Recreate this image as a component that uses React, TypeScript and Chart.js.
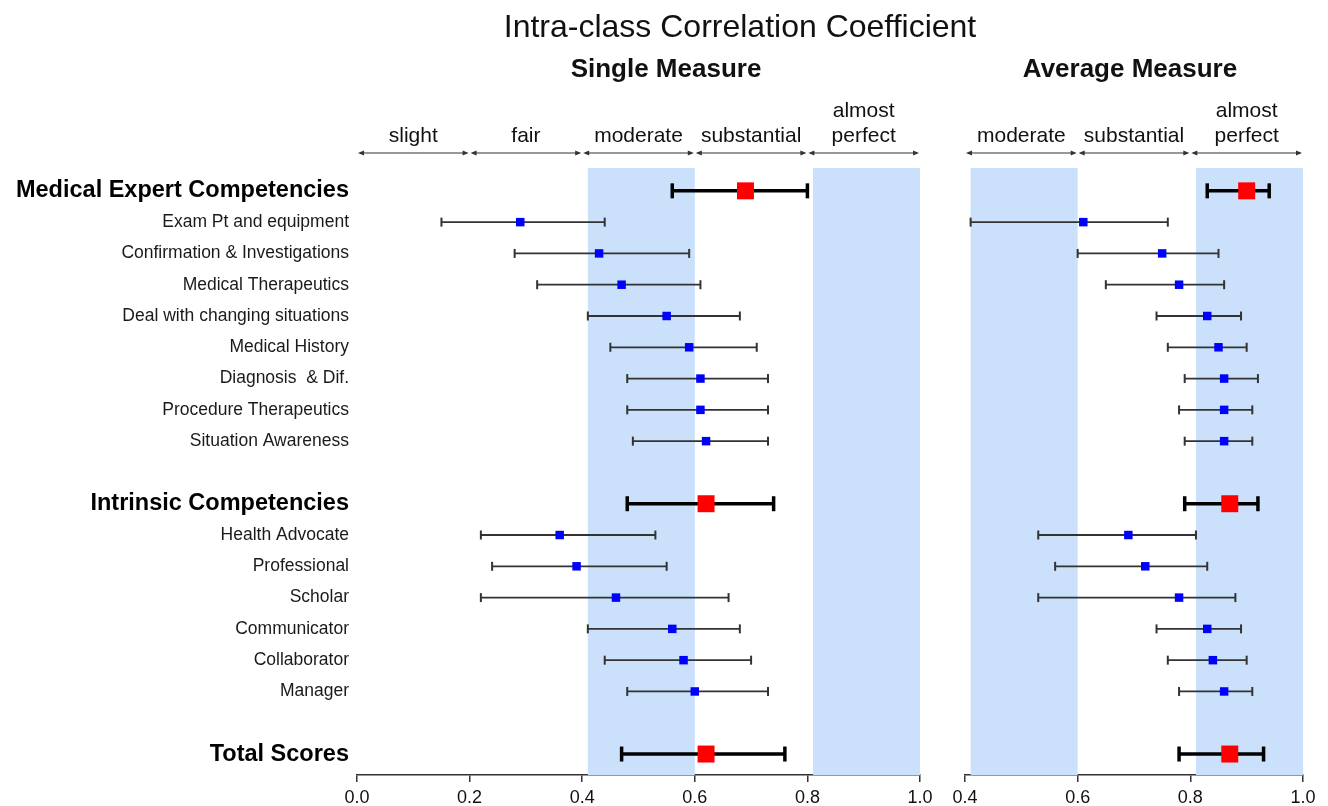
import React, { useEffect, useRef } from 'react';
import { Chart, registerables } from 'chart.js';

Chart.register(...registerables);

const FONT = "'Liberation Sans', Arial, Helvetica, sans-serif";

// ---------- data ----------
const rowLabels = [
  'Medical Expert Competencies',
  'Exam Pt and equipment',
  'Confirmation & Investigations',
  'Medical Therapeutics',
  'Deal with changing situations',
  'Medical History',
  'Diagnosis  & Dif.',
  'Procedure Therapeutics',
  'Situation Awareness',
  '',
  'Intrinsic Competencies',
  'Health Advocate',
  'Professional',
  'Scholar',
  'Communicator',
  'Collaborator',
  'Manager',
  '',
  'Total Scores',
];
const headerRows = [0, 10, 18];

const singleEst = [0.69, 0.29, 0.43, 0.47, 0.55, 0.59, 0.61, 0.61, 0.62, null, 0.62, 0.36, 0.39, 0.46, 0.56, 0.58, 0.60, null, 0.62];
const singleLo = [0.56, 0.15, 0.28, 0.32, 0.41, 0.45, 0.48, 0.48, 0.49, null, 0.48, 0.22, 0.24, 0.22, 0.41, 0.44, 0.48, null, 0.47];
const singleHi = [0.80, 0.44, 0.59, 0.61, 0.68, 0.71, 0.73, 0.73, 0.73, null, 0.74, 0.53, 0.55, 0.66, 0.68, 0.70, 0.73, null, 0.76];

const avgEst = [0.90, 0.61, 0.75, 0.78, 0.83, 0.85, 0.86, 0.86, 0.86, null, 0.87, 0.69, 0.72, 0.78, 0.83, 0.84, 0.86, null, 0.87];
const avgLo = [0.83, 0.41, 0.60, 0.65, 0.74, 0.76, 0.79, 0.78, 0.79, null, 0.79, 0.53, 0.56, 0.53, 0.74, 0.76, 0.78, null, 0.78];
const avgHi = [0.94, 0.76, 0.85, 0.86, 0.89, 0.90, 0.92, 0.91, 0.91, null, 0.92, 0.81, 0.83, 0.88, 0.89, 0.90, 0.91, null, 0.93];

const xTicksLeft = [0, 0.2, 0.4, 0.6, 0.8, 1.0];
const xTicksRight = [0.4, 0.6, 0.8, 1.0];

const zoneBoundsLeft = [0, 0.2, 0.4, 0.6, 0.8, 1.0];
const zoneLabelsLeft = ['slight', 'fair', 'moderate', 'substantial', 'almost\nperfect'];
const zoneBoundsRight = [0.4, 0.6, 0.8, 1.0];
const zoneLabelsRight = ['moderate', 'substantial', 'almost\nperfect'];

const shadedBands = [
  [0.41, 0.6],
  [0.81, 1.0],
];

const mainTitle = 'Intra-class Correlation Coefficient';
const leftTitle = 'Single Measure';
const rightTitle = 'Average Measure';

// ---------- helpers ----------
const isHeader = (i: number) => headerRows.includes(i);

function buildDatasets(est: (number | null)[], lo: (number | null)[], hi: (number | null)[]) {
  const pts = (pred: (i: number) => boolean) =>
    est.map((v, i) => (v == null || !pred(i) ? null : { x: v, y: i })).filter(Boolean) as any[];
  const caps = (pred: (i: number) => boolean) => {
    const d: any[] = [];
    lo.forEach((v, i) => {
      if (v == null || !pred(i)) return;
      d.push({ x: v, y: i }, { x: hi[i], y: i });
    });
    return d;
  };
  const ci = (pred: (i: number) => boolean) => {
    const d: any[] = [];
    lo.forEach((v, i) => {
      if (v == null || !pred(i)) return;
      d.push({ x: v, y: i }, { x: hi[i], y: i }, { x: NaN, y: NaN });
    });
    return d;
  };
  const notH = (i: number) => !isHeader(i);
  return [
    { label: 'hEst', data: pts(isHeader), pointStyle: 'rect', pointRadius: 12, pointBackgroundColor: '#ff0000', pointBorderWidth: 0, showLine: false, order: 0 },
    { label: 'iEst', data: pts(notH), pointStyle: 'rect', pointRadius: 6, pointBackgroundColor: '#0000ff', pointBorderWidth: 0, showLine: false, order: 1 },
    { label: 'hCap', data: caps(isHeader), pointStyle: 'line', pointRotation: 90, pointRadius: 7.5, pointBorderWidth: 3.5, pointBorderColor: '#000', showLine: false, order: 2 },
    { label: 'iCap', data: caps(notH), pointStyle: 'line', pointRotation: 90, pointRadius: 4.5, pointBorderWidth: 2, pointBorderColor: '#333', showLine: false, order: 3 },
    { label: 'hCI', data: ci(isHeader), showLine: true, spanGaps: false, borderColor: '#000', borderWidth: 3.5, pointRadius: 0, order: 4 },
    { label: 'iCI', data: ci(notH), showLine: true, spanGaps: false, borderColor: '#333', borderWidth: 1.8, pointRadius: 0, order: 5 },
  ];
}

const bandPlugin = {
  id: 'bands',
  beforeDatasetsDraw(chart: any) {
    const { ctx, chartArea, scales } = chart;
    const x = scales.x;
    ctx.save();
    ctx.fillStyle = '#cae0fb';
    shadedBands.forEach(([a, b]) => {
      const x1 = x.getPixelForValue(a);
      const x2 = x.getPixelForValue(b);
      ctx.fillRect(x1, chartArea.top, x2 - x1, chartArea.bottom - chartArea.top);
    });
    ctx.restore();
  },
};

function drawArrow(ctx: CanvasRenderingContext2D, x1: number, x2: number, y: number) {
  ctx.beginPath();
  ctx.moveTo(x1 + 2, y);
  ctx.lineTo(x2 - 2, y);
  ctx.stroke();
  ctx.beginPath();
  ctx.moveTo(x1, y);
  ctx.lineTo(x1 + 6, y - 2.5);
  ctx.lineTo(x1 + 6, y + 2.5);
  ctx.closePath();
  ctx.fill();
  ctx.beginPath();
  ctx.moveTo(x2, y);
  ctx.lineTo(x2 - 6, y - 2.5);
  ctx.lineTo(x2 - 6, y + 2.5);
  ctx.closePath();
  ctx.fill();
}

function makeHeaderPlugin(bounds: number[], labels: string[], titles: { text: string; x: number; y: number; font: string }[]) {
  return {
    id: 'zoneHeader',
    afterDraw(chart: any) {
      const { ctx, scales } = chart;
      const x = scales.x;
      ctx.save();
      ctx.strokeStyle = '#333';
      ctx.fillStyle = '#333';
      ctx.lineWidth = 1.2;
      for (let k = 0; k < labels.length; k++) {
        const p1 = x.getPixelForValue(bounds[k]) + 1;
        const p2 = x.getPixelForValue(bounds[k + 1]) - 1;
        drawArrow(ctx, p1, p2, 153);
        const lines = labels[k].split('\n');
        ctx.fillStyle = '#111';
        ctx.font = `21px ${FONT}`;
        ctx.textAlign = 'center';
        ctx.textBaseline = 'middle';
        const cx = (p1 + p2) / 2;
        lines.forEach((ln, j) => {
          const yy = 136 - (lines.length - 1 - j) * 25;
          ctx.fillText(ln, cx, yy);
        });
        ctx.fillStyle = '#333';
      }
      titles.forEach((t) => {
        ctx.fillStyle = '#111';
        ctx.font = t.font;
        ctx.textAlign = 'center';
        ctx.textBaseline = 'alphabetic';
        ctx.fillText(t.text, t.x, t.y);
      });
      ctx.restore();
    },
  };
}

function xAxis(min: number, max: number, ticks: number[]) {
  return {
    type: 'linear',
    min,
    max,
    afterBuildTicks: (s: any) => {
      s.ticks = ticks.map((v) => ({ value: v }));
    },
    afterFit: (s: any) => {
      s.height = 31;
    },
    ticks: {
      callback: (v: any) => Number(v).toFixed(1),
      font: { family: FONT, size: 18 },
      color: '#111',
      padding: 5,
      autoSkip: false,
      maxRotation: 0,
    },
    grid: { display: true, drawOnChartArea: false, drawTicks: true, tickLength: 7, color: '#333', lineWidth: 1.5 },
    border: { display: true, color: '#333', width: 1.5 },
  };
}

function yAxis(show: boolean) {
  return {
    type: 'linear',
    min: -0.73,
    max: 18.67,
    reverse: true,
    display: show,
    afterBuildTicks: (s: any) => {
      s.ticks = rowLabels.map((_, i) => ({ value: i }));
    },
    afterFit: (s: any) => {
      if (show) s.width = 357;
    },
    grid: { display: false, drawTicks: false },
    border: { display: false },
    ticks: {
      autoSkip: false,
      padding: 8,
      callback: (v: any) => rowLabels[v] ?? '',
      font: (c: any) =>
        isHeader(c.index) ? { family: FONT, size: 23.5, weight: 'bold' } : { family: FONT, size: 17.5, weight: 'normal' },
      color: (c: any) => (isHeader(c.index) ? '#000' : '#1a1a1a'),
    },
  };
}

export default function App() {
  const leftRef = useRef<HTMLCanvasElement>(null);
  const rightRef = useRef<HTMLCanvasElement>(null);

  useEffect(() => {
    const common = {
      animation: false,
      responsive: false,
      devicePixelRatio: 1,
      plugins: { legend: { display: false }, tooltip: { enabled: false }, title: { display: false } },
      events: [],
    };
    const left = new Chart(leftRef.current as HTMLCanvasElement, {
      type: 'scatter',
      data: { datasets: buildDatasets(singleEst, singleLo, singleHi) as any },
      options: {
        ...common,
        layout: { padding: { top: 168, right: 408, left: 0, bottom: 0 } },
        scales: { x: xAxis(0, 1, xTicksLeft), y: yAxis(true) },
      } as any,
      plugins: [
        bandPlugin,
        makeHeaderPlugin(zoneBoundsLeft, zoneLabelsLeft, [
          { text: mainTitle, x: 740, y: 37, font: `32px ${FONT}` },
          { text: leftTitle, x: 666, y: 77, font: `bold 26px ${FONT}` },
        ]),
      ],
    } as any);
    const right = new Chart(rightRef.current as HTMLCanvasElement, {
      type: 'scatter',
      data: { datasets: buildDatasets(avgEst, avgLo, avgHi) as any },
      options: {
        ...common,
        layout: { padding: { top: 168, right: 25, left: 20, bottom: 0 } },
        scales: { x: xAxis(0.4, 1, xTicksRight), y: yAxis(false) },
      } as any,
      plugins: [
        bandPlugin,
        makeHeaderPlugin(zoneBoundsRight, zoneLabelsRight, [
          { text: rightTitle, x: 185, y: 77, font: `bold 26px ${FONT}` },
        ]),
      ],
    } as any);
    return () => {
      left.destroy();
      right.destroy();
    };
  }, []);

  return (
    <div style={{ position: 'fixed', left: 0, top: 0, width: 1328, height: 806, background: '#fff' }}>
      <canvas ref={leftRef} width={1328} height={806} style={{ position: 'absolute', left: 0, top: 0, display: 'block' }} />
      <canvas ref={rightRef} width={383} height={806} style={{ position: 'absolute', left: 945, top: 0, display: 'block' }} />
    </div>
  );
}
